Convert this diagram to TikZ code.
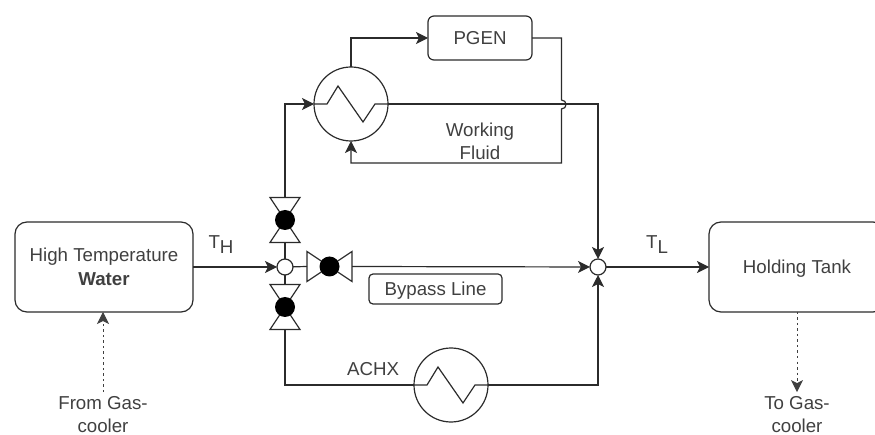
\documentclass[tikz,border=0pt]{standalone}
\usepackage{fontspec}
\setmainfont{Liberation Sans}
\usetikzlibrary{positioning,arrows.meta}
\definecolor{pipeink}{HTML}{2B2B2B}
\definecolor{textink}{HTML}{404040}
\begin{document}
\begin{tikzpicture}
    [ x = 1pt, y = -1pt
    , every node/.style =
      { text = textink, inner sep = 0pt, outer sep = 0pt, align = center
      , font = \fontsize{18.7}{23.5}\selectfont }
    , oneline/.style =
      { text height = 13.4pt, text depth = 0pt }
    , vessel/.style =
      { draw = pipeink, line width = 1.2pt, rounded corners = 12pt }
    , tagbox/.style =
      { draw = pipeink, line width = 1.2pt, rounded corners = 4pt }
    , junction/.style =
      { draw = pipeink, line width = 1.2pt, circle, fill = white, minimum size = 16pt }
    , pipe/.style =
      { draw = pipeink, line width = 1.2pt }
    , flow/.style =
      { pipe, -{Stealth[length=12pt,width=12pt,inset=3pt]} }
    , feed/.style =
      { draw = textink, line width = 1pt, dash pattern = on 2.5pt off 3pt
      , -{Stealth[length=12pt,width=12pt,inset=3pt]} }
    , valve/.pic =
      { \draw [pipe, fill = white] (-22.5,-15) -- (22.5,15) -- (22.5,-15) -- (-22.5,15) -- cycle;
        \node [circle, fill = black, minimum size = 20pt] (-disc) at (0,0) {};
        \coordinate (-a) at (-22.5,0);
        \coordinate (-b) at (22.5,0); }
    , heatx/.pic =
      { \node [pipe, circle, minimum size = 74pt] (-body) at (0,0) {};
        \draw [pipe] (-body.west) -- (-24,0) -- (-13,-18) -- (12,18) -- (24,0) -- (-body.east); }
    ]
    \clip (0,0) rectangle (875,435);

    \node [vessel, minimum width = 178pt, minimum height = 90pt] (water) at (104,267)
      {High Temperature\\ \bfseries Water};
    \node [junction] (jin) [right=84pt of water] {};
    \node [junction] (jout) [right=297pt of jin] {};
    \node [vessel, oneline, minimum width = 176pt, minimum height = 90pt] (tank) [right=103pt of jout] {Holding Tank};
    \node [vessel, oneline, rounded corners = 6pt, minimum width = 104pt, minimum height = 44pt] (pgen) at (480,38) {PGEN};
    \node [tagbox, oneline, minimum width = 133pt, minimum height = 30pt] (bypass) at (435.5,289) {Bypass Line};

    \pic (hotx) at (351,104) {heatx};
    \pic (achx) at (451,385) {heatx};
    \pic [rotate=90] (vtop) at (285,220) {valve};
    \pic [rotate=90] (vlow) at (285,307) {valve};
    \pic (vmid) at (329.5,266.5) {valve};

    \node (fluid) at (480,141.5) {Working\\ Fluid};
    \node [oneline] (achxname) at (373,369) {ACHX};
    \node (thigh) at (221,245) {T\raisebox{-5pt}{H}};
    \node (tlow) at (657,245) {T\raisebox{-5pt}{L}};
    \node (fromgas) at (103,414.5) {From Gas-\\ cooler};
    \node (togas) at (797,414.5) {To Gas-\\ cooler};

    \coordinate (jumpa) at (561.5,100);
    \coordinate (jumpb) at (561.5,109);
    \coordinate (retn) at (561.5,163);

    \draw [flow] (water) -- (jin);
    \draw [flow] (jout) -- (tank);
    \draw [pipe] (jin) -- (vtop-a);
    \draw [pipe] (jin) -- (vlow-b);
    \draw [pipe] (jin) -- (vmid-a);
    \draw [flow] (vmid-b) -- (jout);
    \draw [flow] (vtop-b) |- (hotx-body.west);
    \draw [flow] (hotx-body.north) |- (pgen.west);
    \draw [flow] (hotx-body.east) -| (jout.north);
    \draw [flow] (pgen.east) -| (jumpa) .. controls (567.5,100) and (567.5,109) .. (jumpb) -- (retn) -| (hotx-body.south);
    \draw [pipe] (vlow-a) |- (achx-body.west);
    \draw [flow] (achx-body.east) -| (jout.south);
    \draw [feed, shorten <=4pt] (fromgas.north) -- (fromgas.north |- water.south);
    \draw [feed, shorten >=4pt] (tank.south) -- (togas.north);
  \end{tikzpicture}
\end{document}
